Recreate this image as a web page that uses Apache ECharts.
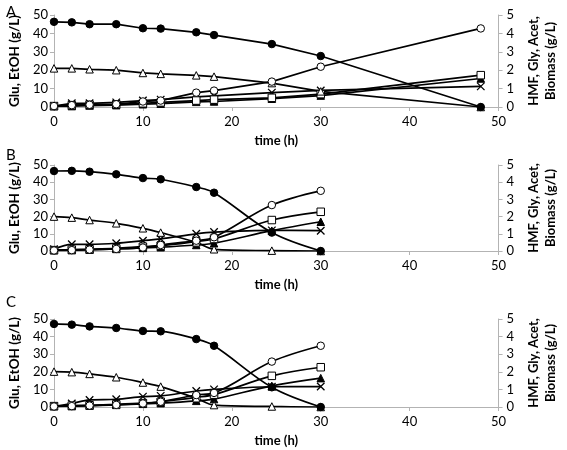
<!DOCTYPE html>
<html><head><meta charset="utf-8">
<script src="https://cdn.jsdelivr.net/npm/echarts@6/dist/echarts.min.js"></script>
<style>html,body{margin:0;padding:0;background:#fff}#c{width:567px;height:450px}</style>
</head><body><div id="c"></div>
<script>
const panelLabels = ['A','B','C'];
const xTicks = [0,10,20,30,40,50];
const timeA = [0,2,4,7,10,12,16,18,24.5,30,48];
const timeBC = [0,2,4,7,10,12,16,18,24.5,30];

// Panel A (Glu, EtOH in g/L on left axis; others on right axis)
const gluA  = [46.3,46,45,45,42.8,42.6,40.6,39.1,34.2,27.7,0];
const etohA = [0.5,1,1.2,1.5,3,3.5,7.8,8.9,13.8,21.9,42.7];
const hmfA  = [2.1,2.1,2.05,2.0,1.85,1.8,1.72,1.65,1.3,0.85,0];
const glyA  = [0.05,0.1,0.12,0.15,0.2,0.25,0.35,0.4,0.5,0.7,1.73];
const acetA = [0.05,0.2,0.2,0.25,0.35,0.4,0.55,0.6,0.78,0.9,1.12];
const bioA  = [0.05,0.05,0.08,0.1,0.15,0.18,0.28,0.3,0.45,0.62,1.55];

// Panel B
const gluB  = [46.5,46.6,46.1,44.6,42.4,41.7,37.2,33.9,10.7,0];
const etohB = [0.3,0.5,0.8,1.2,2,3.5,6,8,26.7,35];
const hmfB  = [2.0,1.94,1.8,1.61,1.32,1.07,0.5,0.1,0.02,0];
const glyB  = [0.05,0.08,0.1,0.15,0.25,0.3,0.55,0.7,1.8,2.28];
const acetB = [0.1,0.39,0.39,0.45,0.6,0.7,1.0,1.1,1.2,1.18];
const bioB  = [0.05,0.05,0.08,0.12,0.18,0.22,0.35,0.45,1.18,1.7];

// Panel C
const gluC  = [47.2,46.8,45.8,44.9,43.2,43,38.6,34.8,11.2,0];
const etohC = [0.3,0.5,0.8,1.2,2,3,6.8,8,25.8,34.8];
const hmfC  = [2.01,1.98,1.88,1.69,1.39,1.16,0.5,0.11,0.03,0];
const glyC  = [0.05,0.08,0.1,0.15,0.22,0.3,0.55,0.7,1.77,2.26];
const acetC = [0.05,0.2,0.4,0.44,0.59,0.63,0.91,1.0,1.15,1.16];
const bioC  = [0.05,0.05,0.08,0.12,0.18,0.22,0.35,0.45,1.2,1.64];

const panels = [
  {t: timeA, glu: gluA, etoh: etohA, hmf: hmfA, gly: glyA, acet: acetA, bio: bioA, smooth: false, top: 15, height: 92, lab: 0},
  {t: timeBC, glu: gluB, etoh: etohB, hmf: hmfB, gly: glyB, acet: acetB, bio: bioB, smooth: 0.35, top: 165, height: 86, lab: 143},
  {t: timeBC, glu: gluC, etoh: etohC, hmf: hmfC, gly: glyC, acet: acetC, bio: bioC, smooth: 0.35, top: 319, height: 88, lab: 290}
];

const FONT = 'Lato';
const axisGray = '#b3b3b3';
const grids = [], xAxes = [], yAxes = [], series = [], titles = [];
const pair = (t, v) => t.map((x, i) => [x, v[i]]);

const filled = s => ({symbol: s, itemStyle: {color: '#000', borderColor: '#000', borderWidth: 1}});
const open = s => ({symbol: s, itemStyle: {color: '#fff', borderColor: '#000', borderWidth: 1}});
const cross = {symbol: 'path://M0,0L10,10M10,0L0,10', itemStyle: {color: 'none', borderColor: '#000', borderWidth: 1.3}};

panels.forEach((p, k) => {
  grids.push({left: 52.5, right: 59, top: p.top, height: p.height});
  titles.push({text: panelLabels[k], left: 1, top: p.lab, textStyle: {fontFamily: FONT, fontSize: 15, fontWeight: 'normal', color: '#000'}});
  xAxes.push({
    gridIndex: k, type: 'value', min: 0, max: 50, interval: 10,
    name: 'time (h)', nameLocation: 'middle', nameGap: 27,
    nameTextStyle: {fontFamily: FONT, fontSize: 13, fontWeight: 'bold', color: '#000'},
    axisLine: {onZero: false, lineStyle: {color: axisGray, width: 1}},
    axisTick: {show: true, length: 4, lineStyle: {color: axisGray}},
    axisLabel: {fontFamily: FONT, fontSize: 13, color: '#000', margin: 8},
    splitLine: {show: false}
  });
  yAxes.push({
    gridIndex: k, type: 'value', min: 0, max: 50, interval: 10, position: 'left',
    name: 'Glu, EtOH (g/L)', nameLocation: 'middle', nameGap: 32, nameRotate: 90,
    nameTextStyle: {fontFamily: FONT, fontSize: 13.5, fontWeight: 'bold', color: '#000'},
    axisLine: {show: true, lineStyle: {color: axisGray, width: 1}},
    axisTick: {show: true, length: 4, lineStyle: {color: axisGray}},
    axisLabel: {fontFamily: FONT, fontSize: 13, color: '#000', margin: 6},
    splitLine: {show: false}
  });
  yAxes.push({
    gridIndex: k, type: 'value', min: 0, max: 5, interval: 1, position: 'right',
    name: 'HMF, Gly, Acet,\nBiomass (g/L)', nameLocation: 'middle', nameGap: 26, nameRotate: 90,
    nameTextStyle: {fontFamily: FONT, fontSize: 13, fontWeight: 'bold', color: '#000', lineHeight: 17},
    axisLine: {show: true, lineStyle: {color: axisGray, width: 1}},
    axisTick: {show: true, length: 4, lineStyle: {color: axisGray}},
    axisLabel: {fontFamily: FONT, fontSize: 13, color: '#000', margin: 8},
    splitLine: {show: false}
  });
  const base = {type: 'line', xAxisIndex: k, smooth: p.smooth, symbolSize: 7.5,
    lineStyle: {color: '#000', width: 1.7}, animation: false};
  const defs = [
    ['Acet', p.acet, 1, cross],
    ['Biomass', p.bio, 1, filled('triangle')],
    ['Gly', p.gly, 1, open('rect')],
    ['HMF', p.hmf, 1, open('triangle')],
    ['EtOH', p.etoh, 0, open('circle')],
    ['Glu', p.glu, 0, filled('circle')]
  ];
  defs.forEach(([name, v, ax, sym]) => {
    series.push(Object.assign({}, base, sym, {name: name + panelLabels[k], yAxisIndex: 2 * k + ax, data: pair(p.t, v)}));
  });
});

const chart = echarts.init(document.getElementById('c'), null, {renderer: 'canvas'});
chart.setOption({animation: false, backgroundColor: '#fff', title: titles, grid: grids, xAxis: xAxes, yAxis: yAxes, series: series});
</script></body></html>
